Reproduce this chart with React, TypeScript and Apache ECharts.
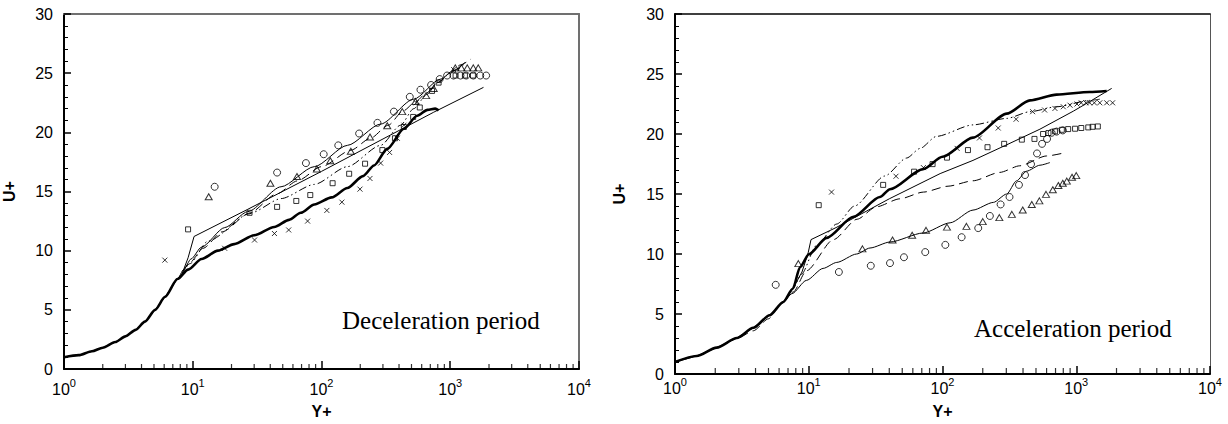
import React, { useEffect, useRef } from "react";
import * as echarts from "echarts";

// ---------- Deceleration period (left) ----------
const decWall = [[1, 1.0], [1.3, 1.17], [1.65, 1.5], [2, 1.8], [2.5, 2.28], [3, 2.76], [3.6, 3.31], [4.25, 4.0], [5.1, 5.0], [6.1, 6.1], [7.6, 7.6]];
const decThickTail = [[9.2, 8.4], [11.7, 9.3], [15.7, 10.0], [21, 10.55], [30, 11.3], [43, 12.0], [56, 12.6], [69, 13.2], [88, 13.9], [120, 14.5], [159, 15.3], [210, 16.3], [256, 17.2], [324, 18.6], [437, 20.3], [553, 21.4], [666, 21.9], [764, 22.0], [812, 21.85]];
const decLogTail = [[8.2, 7.95], [9.2, 9.4], [10.24, 11.2], [26.8, 13.5], [100, 16.7], [744, 21.7], [1812, 23.8]];
const decUpperTail = [[8.5, 8.4], [9.7, 9.3], [11.7, 10.3], [17.7, 11.95], [26.8, 13.3], [48.5, 15.4], [88, 17.1], [159, 18.9], [288, 20.7], [520, 22.8], [842, 24.5], [1050, 25.2], [1300, 25.9]];
const decDashTail = [[9.5, 9.0], [12, 10.2], [17, 11.6], [27, 13.1], [45, 14.8], [65, 15.9], [100, 17.1], [170, 18.5], [240, 19.5], [330, 20.6], [430, 21.8], [540, 22.6], [650, 23.3], [800, 24.2], [1000, 25.0], [1200, 25.7], [1450, 26.2]];
const decDashDotTail = [[9.5, 8.9], [13.1, 10.8], [28.4, 13.2], [48.5, 14.4], [88, 15.6], [159, 17.1], [288, 18.9], [411, 20.6], [520, 22.0], [658, 23.2], [791, 24.2], [1063, 25.2], [1300, 25.8]];

const decCircles = [[14.8, 15.4], [45.2, 16.6], [75.7, 17.4], [104, 18.15], [135, 18.9], [196, 19.9], [272, 20.8], [365, 21.75], [485, 23.0], [587, 23.6], [710, 24.0], [828, 24.5], [945, 24.8], [1060, 24.8], [1200, 24.8], [1330, 24.8], [1510, 24.8], [1710, 24.8], [1900, 24.8]];
const decTriangles = [[13.3, 14.55], [40.1, 15.7], [64.5, 16.27], [92, 16.9], [117, 17.6], [169, 18.4], [238, 19.6], [324, 20.55], [424, 21.75], [537, 22.6], [650, 23.1], [744, 23.7], [1095, 25.45], [1220, 25.45], [1356, 25.45], [1510, 25.45], [1650, 25.45]];
const decSquares = [[9.2, 11.8], [27.6, 13.2], [45.2, 13.7], [63.7, 14.2], [81.8, 14.7], [122, 15.7], [164, 16.5], [218, 17.35], [297, 18.5], [372, 19.5], [436, 20.45], [515, 21.3], [580, 22.1], [722, 23.5], [812, 24.2], [1100, 24.8], [1300, 24.8], [1500, 24.8]];
const decCrosses = [[6.07, 9.2], [17.7, 10.2], [30.2, 10.9], [43.1, 11.45], [55.6, 11.75], [78, 12.5], [110, 13.4], [144, 14.1], [199, 15.2], [238, 16.1], [288, 17.4], [338, 18.3], [388, 19.5], [437, 20.6], [544, 22.5], [1063, 25.3]];

// ---------- Acceleration period (right) ----------
const accWall = [[1, 1.0], [1.45, 1.5], [2.05, 2.2], [2.9, 3.0], [3.85, 3.85], [5.1, 4.9], [6.45, 6.0], [7.6, 7.1]];
const accThickTail = [[8.6, 8.9], [10, 9.97], [13.6, 11.34], [21.6, 13.1], [34, 14.75], [40.5, 15.4], [71.6, 17.07], [100, 18.1], [169, 19.7], [302, 21.7], [451, 22.8], [713, 23.28], [1260, 23.5], [1690, 23.58]];
const accLogTail = [[8.9, 8.5], [9.9, 10.1], [10.4, 11.2], [16, 12.2], [40, 14.6], [96, 16.7], [169, 17.8], [302, 19.1], [535, 20.4], [950, 21.9], [1260, 22.7], [1840, 23.8]];
const accDashDotTail = [[8.8, 8.3], [11.4, 10.7], [16.2, 12.5], [22, 14.0], [37, 16.5], [54, 18.0], [68, 18.8], [90, 19.8], [169, 20.76], [302, 21.3], [451, 21.86], [713, 22.27], [1260, 22.8], [1500, 22.9]];
const accDashed = [[1, 1.0], [1.45, 1.5], [2.05, 2.2], [2.9, 2.95], [3.85, 3.6], [5, 4.6], [6.1, 5.74], [7.66, 6.83], [9.6, 8.6], [15.3, 11.2], [23, 12.9], [32, 13.93], [48, 14.6], [72, 15.16], [110, 15.65], [169, 16.1], [268, 16.8], [378, 17.35], [600, 18.17], [823, 18.44]];
const accLowTail = [[7.5, 6.7], [9.6, 7.8], [12.8, 8.8], [16.2, 9.3], [22.8, 10.0], [28.7, 10.5], [40.5, 11.0], [71.6, 11.75], [114, 12.6], [169, 13.66], [240, 14.3], [302, 15.0], [358, 16.1], [425, 16.9], [535, 17.4], [635, 17.62]];

const accCircles = [[5.66, 7.43], [16.8, 8.5], [29.1, 9.02], [40.5, 9.24], [51.5, 9.73], [74.3, 10.16], [105, 10.76], [139, 11.4], [185, 12.16], [226, 13.17], [272, 14.13], [317, 14.75], [373, 15.76], [414, 16.58], [459, 17.49], [509, 18.38], [555, 19.18], [605, 19.59], [654, 20.1], [713, 20.2], [793, 20.3]];
const accTriangles = [[8.36, 9.2], [25.2, 10.43], [42.3, 11.17], [59.3, 11.56], [75.3, 11.97], [108, 12.24], [151, 12.3], [200, 12.7], [266, 13.03], [330, 13.3], [398, 13.66], [465, 14.13], [530, 14.43], [594, 14.97], [668, 15.36], [735, 15.71], [793, 15.9], [850, 16.07], [930, 16.39], [1000, 16.53]];
const accSquares = [[11.87, 14.07], [36, 15.76], [61.3, 16.86], [84.3, 17.49], [108, 18.03], [155, 18.66], [217, 18.9], [289, 19.18], [392, 19.53], [487, 19.59], [565, 20.0], [620, 20.08], [693, 20.22], [780, 20.35], [870, 20.41], [980, 20.44], [1090, 20.5], [1230, 20.55], [1325, 20.6], [1450, 20.63]];
const accCrosses = [[14.8, 15.16], [44.9, 16.48], [72, 17.2], [128.6, 18.8], [189, 19.67], [261, 20.5], [355, 21.23], [472, 21.86], [580, 22.0], [693, 22.13], [800, 22.27], [898, 22.4], [1013, 22.5], [1090, 22.6], [1180, 22.6], [1260, 22.6], [1365, 22.6], [1500, 22.6], [1690, 22.6], [1870, 22.6]];

// ---------- axis ticks ----------
const decadeLabels = [1, 10, 100, 1000, 10000];
const minorTickValues = [2, 3, 4, 5, 6, 7, 8, 9, 20, 30, 40, 50, 60, 70, 80, 90, 200, 300, 400, 500, 600, 700, 800, 900, 2000, 3000, 4000, 5000, 6000, 7000, 8000, 9000];
const annotations = ["Deceleration period", "Acceleration period"];

const FONT = "'Liberation Sans', Arial, sans-serif";
const CROSS = "path://M0,0L10,10M10,0L0,10";

function lineSeries(idx: number, data: number[][], kind: string) {
  const style: any = { color: "#000", width: 1, type: "solid" };
  if (kind === "thick") style.width = 2.6;
  if (kind === "dash") style.type = [9, 5];
  if (kind === "dashdot") style.type = [8, 3, 1.5, 3, 1.5, 3];
  return {
    type: "line",
    xAxisIndex: idx,
    yAxisIndex: idx,
    data,
    showSymbol: false,
    smooth: kind === "log" ? false : 0.25,
    smoothMonotone: "x",
    lineStyle: style,
    silent: true,
  };
}

function markerSeries(idx: number, data: number[][], symbol: string, size: any) {
  return {
    type: "scatter",
    xAxisIndex: idx,
    yAxisIndex: idx,
    data,
    symbol,
    symbolSize: size,
    itemStyle: { color: "rgba(255,255,255,0)", borderColor: "#000", borderWidth: 1 },
    silent: true,
  };
}

function minorTicks(idx: number, len: number) {
  return {
    type: "scatter",
    xAxisIndex: idx,
    yAxisIndex: idx,
    data: minorTickValues.map((v) => [v, 0]),
    symbol: "rect",
    symbolSize: [1.2, len],
    symbolOffset: [0, -len / 2],
    itemStyle: { color: "#000" },
    clip: false,
    silent: true,
  };
}

function xAxis(idx: number, margin: number, nameGap: number) {
  return {
    type: "log",
    logBase: 10,
    gridIndex: idx,
    position: "bottom",
    min: decadeLabels[0],
    max: decadeLabels[decadeLabels.length - 1],
    splitNumber: 4,
    name: "Y+",
    nameLocation: "middle",
    nameGap,
    nameTextStyle: { color: "#000", fontSize: 16, fontWeight: "bold", fontFamily: FONT },
    axisLine: { show: true, onZero: false, lineStyle: { color: "#000", width: 2 } },
    axisTick: { show: true, inside: true, length: 8, lineStyle: { color: "#000", width: 1.5 } },
    minorTick: { show: false },
    splitLine: { show: false },
    axisLabel: {
      color: "#000",
      margin,
      formatter: (v: number) => `{b|10}{s|${Math.round(Math.log10(v))}}`,
      rich: {
        b: { fontSize: 16, fontFamily: FONT, color: "#000", lineHeight: 20, verticalAlign: "bottom" },
        s: { fontSize: 11, fontFamily: FONT, color: "#000", lineHeight: 11, verticalAlign: "top" },
      },
    },
  };
}

function frameX(idx: number, color: string, width: number) {
  return {
    type: "value",
    gridIndex: idx,
    position: "top",
    min: 0,
    max: 1,
    axisLine: { show: true, onZero: false, lineStyle: { color, width } },
    axisTick: { show: false },
    axisLabel: { show: false },
    splitLine: { show: false },
  };
}

function yAxis(idx: number, nameGap: number) {
  return {
    type: "value",
    gridIndex: idx,
    position: "left",
    min: 0,
    max: 30,
    interval: 5,
    name: "U+",
    nameLocation: "middle",
    nameGap,
    nameRotate: 90,
    nameTextStyle: { color: "#000", fontSize: 16, fontWeight: "bold", fontFamily: FONT },
    axisLine: { show: true, onZero: false, lineStyle: { color: "#000", width: 2 } },
    axisTick: { show: true, inside: true, length: 7, lineStyle: { color: "#000", width: 1.5 } },
    minorTick: { show: true, splitNumber: 5, length: 4, lineStyle: { color: "#000", width: 1 } },
    splitLine: { show: false },
    minorSplitLine: { show: false },
    axisLabel: { color: "#000", fontSize: 16, fontFamily: FONT, margin: 11 },
  };
}

function frameY(idx: number, color: string, width: number) {
  return {
    type: "value",
    gridIndex: idx,
    position: "right",
    min: 0,
    max: 1,
    axisLine: { show: true, onZero: false, lineStyle: { color, width } },
    axisTick: { show: false },
    axisLabel: { show: false },
    splitLine: { show: false },
  };
}

export default function App() {
  const ref = useRef<HTMLDivElement>(null);
  useEffect(() => {
    const chart = echarts.init(ref.current!, null, { renderer: "svg" });
    const option: any = {
      animation: false,
      backgroundColor: "#fff",
      grid: [
        { left: 62, top: 14, width: 517, height: 359 },
        { left: 675, top: 14, width: 535, height: 366 },
      ],
      xAxis: [xAxis(0, 8, 34), xAxis(1, 2, 29), frameX(0, "#707070", 2), frameX(1, "#000", 1.5)],
      yAxis: [yAxis(0, 47), yAxis(1, 48), frameY(0, "#707070", 2), frameY(1, "#555", 1)],
      graphic: [
        {
          type: "text",
          x: 342,
          y: 320,
          style: { text: annotations[0], font: "25px 'Liberation Serif', 'Times New Roman', serif", fill: "#000", textAlign: "left", textVerticalAlign: "middle", align: "left", verticalAlign: "middle" },
        },
        {
          type: "text",
          x: 974,
          y: 328,
          style: { text: annotations[1], font: "25px 'Liberation Serif', 'Times New Roman', serif", fill: "#000", textAlign: "left", textVerticalAlign: "middle", align: "left", verticalAlign: "middle" },
        },
      ],
      series: [
        lineSeries(0, [...decWall, ...decThickTail], "thick"),
        lineSeries(0, [...decWall, ...decLogTail], "log"),
        lineSeries(0, [...decWall, ...decUpperTail], "thin"),
        lineSeries(0, [...decWall, ...decDashTail], "dash"),
        lineSeries(0, [...decWall, ...decDashDotTail], "dashdot"),
        markerSeries(0, decCircles, "circle", 7),
        markerSeries(0, decTriangles, "triangle", [7, 6]),
        markerSeries(0, decSquares, "rect", 5),
        markerSeries(0, decCrosses, CROSS, 5),
        minorTicks(0, 5),

        lineSeries(1, [...accWall, ...accThickTail], "thick"),
        lineSeries(1, [...accWall, ...accLogTail], "log"),
        lineSeries(1, [...accWall, ...accDashDotTail], "dashdot"),
        lineSeries(1, accDashed, "dash"),
        lineSeries(1, [...accWall.slice(0, 7), ...accLowTail], "thin"),
        markerSeries(1, accCircles, "circle", 7),
        markerSeries(1, accTriangles, "triangle", [7, 6]),
        markerSeries(1, accSquares, "rect", 5),
        markerSeries(1, accCrosses, CROSS, 5),
        minorTicks(1, 6),
      ],
    };
    chart.setOption(option);
    return () => chart.dispose();
  }, []);
  return <div ref={ref} style={{ position: "fixed", left: 0, top: 0, width: 1228, height: 424, background: "#fff" }} />;
}
